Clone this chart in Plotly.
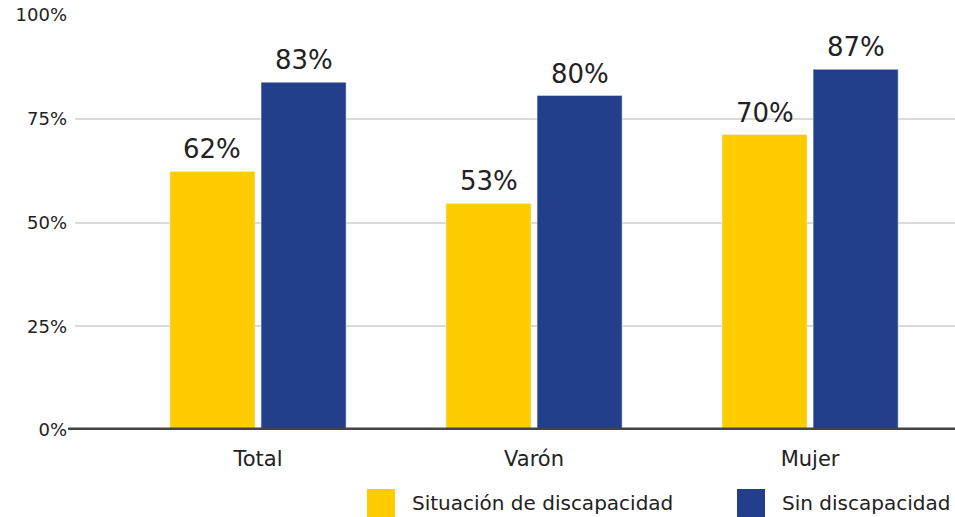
import plotly.graph_objects as go

categories = ["Total", "Varón", "Mujer"]
series_names = ["Situación de discapacidad", "Sin discapacidad"]
con_disc = [62.3, 54.6, 71.2]
sin_disc = [83.8, 80.6, 86.9]
con_labels = ["62%", "53%", "70%"]
sin_labels = ["83%", "80%", "87%"]
y_ticks = [0, 25, 50, 75, 100]
y_tick_text = ["0%", "25%", "50%", "75%", "100%"]

YELLOW = "#FFCC00"
BLUE = "#233F8C"
TEXT = "#222222"
FONT = "DejaVu Sans"

x_idx = list(range(len(categories)))
bar_w = 0.308
offsets = [-0.319, 0.011]

fig = go.Figure()
for vals, name, color, off in [(con_disc, series_names[0], YELLOW, offsets[0]),
                               (sin_disc, series_names[1], BLUE, offsets[1])]:
    fig.add_trace(go.Bar(x=x_idx, y=vals, name=name, marker_color=color,
                         width=bar_w, offset=off, showlegend=False))

annotations = []
for vals, labels, off in [(con_disc, con_labels, offsets[0]), (sin_disc, sin_labels, offsets[1])]:
    for xi, v, t in zip(x_idx, vals, labels):
        annotations.append(dict(x=xi + off + bar_w / 2, y=v, text=t, showarrow=False,
                                xanchor="center", yanchor="bottom", yshift=5,
                                font=dict(family=FONT, size=26, color=TEXT)))

# legend (custom, large square swatches)
legend_items = [(series_names[0], YELLOW, 0.3318, 0.3807), (series_names[1], BLUE, 0.7523, 0.8011)]
shapes = []
for name, color, sx, tx in legend_items:
    shapes.append(dict(type="rect", xref="paper", yref="paper", x0=sx, x1=sx + 0.0318,
                       y0=-0.2096, y1=-0.1422, fillcolor=color, line=dict(width=0)))
    annotations.append(dict(xref="paper", yref="paper", x=tx, y=-0.176, text=name,
                            showarrow=False, xanchor="left", yanchor="middle",
                            font=dict(family=FONT, size=20, color=TEXT)))

# baseline
shapes.append(dict(type="line", xref="paper", yref="y", x0=-0.008, x1=1, y0=0, y1=0,
                   line=dict(color="#444444", width=5)))

fig.update_layout(
    width=955, height=517,
    margin=dict(l=75, r=0, t=15, b=87),
    paper_bgcolor="white", plot_bgcolor="white",
    barmode="overlay",
    font=dict(family=FONT, color=TEXT),
    xaxis=dict(tickvals=x_idx, ticktext=categories, range=[-0.663, 2.525],
               showgrid=False, zeroline=False, showline=False, ticks="",
               ticklabelstandoff=14,
               tickfont=dict(size=21, color=TEXT)),
    yaxis=dict(range=[0, 100], tickvals=y_ticks, ticktext=y_tick_text,
               showgrid=True, gridcolor="#DADADA", gridwidth=2, zeroline=False,
               showline=False, ticks="", ticklabelstandoff=7,
               tickfont=dict(size=18, color=TEXT)),
    annotations=annotations, shapes=shapes,
    showlegend=False,
)

fig.write_html("out.html", config={"displayModeBar": False},
               post_script="document.body.style.margin='0';")
